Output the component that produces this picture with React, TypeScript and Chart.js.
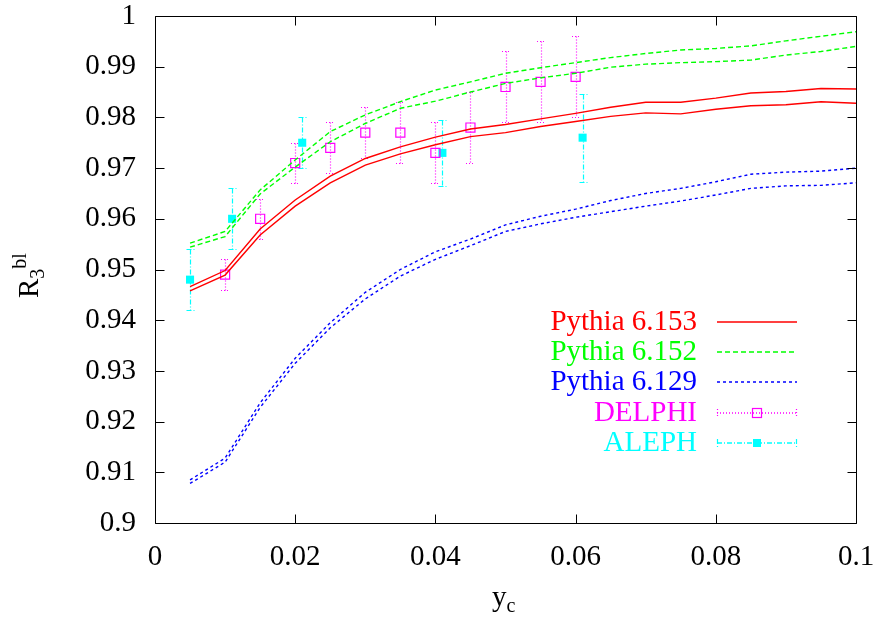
import React, { useEffect, useRef } from "react";
import { Chart, registerables } from "chart.js";

Chart.register(...registerables);

// ---------- data ----------
const ycValues = [
  0.005, 0.01, 0.015, 0.02, 0.025, 0.03, 0.035, 0.04, 0.045, 0.05,
  0.055, 0.06, 0.065, 0.07, 0.075, 0.08, 0.085, 0.09, 0.095, 0.1,
];

const pythia153Upper = [
  0.9466, 0.9498, 0.958, 0.9637, 0.9684, 0.9719, 0.9742, 0.9761, 0.9777, 0.9786,
  0.9797, 0.9808, 0.982, 0.983, 0.983, 0.9838, 0.9848, 0.9851, 0.9857, 0.9856,
];
const pythia153Lower = [
  0.9458, 0.9489, 0.9568, 0.9625, 0.9671, 0.9706, 0.9728, 0.9746, 0.9762, 0.977,
  0.9782, 0.9792, 0.9802, 0.9809, 0.9807, 0.9816, 0.9823, 0.9825, 0.9831, 0.9828,
];

const pythia152Upper = [
  0.9552, 0.9575, 0.9657, 0.9716, 0.9772, 0.9805, 0.9831, 0.9854, 0.987, 0.9887,
  0.9898, 0.9908, 0.9918, 0.9926, 0.9933, 0.9936, 0.9941, 0.9951, 0.996, 0.9969,
];
const pythia152Lower = [
  0.9544, 0.9565, 0.9649, 0.9702, 0.9752, 0.9788, 0.9818, 0.9832, 0.985, 0.9867,
  0.9878, 0.9887, 0.9899, 0.9905, 0.9908, 0.991, 0.9913, 0.9923, 0.993, 0.994,
];

const pythia129Upper = [
  0.9085, 0.9128, 0.9237, 0.9325, 0.9395, 0.9455, 0.95, 0.9535, 0.956, 0.9588,
  0.9605, 0.9619, 0.9636, 0.965, 0.966, 0.9673, 0.9688, 0.9692, 0.9694, 0.97,
];
const pythia129Lower = [
  0.9078, 0.912, 0.9228, 0.9315, 0.9385, 0.9442, 0.9487, 0.952, 0.9547, 0.9575,
  0.959, 0.9603, 0.9614, 0.9625, 0.9635, 0.9647, 0.966, 0.9665, 0.9666, 0.9671,
];

const delphiX = [0.01, 0.015, 0.02, 0.025, 0.03, 0.035, 0.04, 0.045, 0.05, 0.055, 0.06];
const delphiY = [0.949, 0.96, 0.971, 0.974, 0.977, 0.977, 0.973, 0.978, 0.986, 0.987, 0.988];
const delphiErr = [0.003, 0.004, 0.004, 0.005, 0.005, 0.006, 0.006, 0.007, 0.007, 0.008, 0.008];

const alephX = [0.005, 0.011, 0.021, 0.041, 0.061];
const alephY = [0.948, 0.96, 0.975, 0.973, 0.976];
const alephErr = [0.006, 0.006, 0.005, 0.0065, 0.0087];

const xTickValues = [0, 0.02, 0.04, 0.06, 0.08, 0.1];
const yTickValues = [0.9, 0.91, 0.92, 0.93, 0.94, 0.95, 0.96, 0.97, 0.98, 0.99, 1];

const legendLabels = ["Pythia 6.153", "Pythia 6.152", "Pythia 6.129", "DELPHI", "ALEPH"];

// ---------- styles ----------
const FONT = '"Liberation Serif", "Times New Roman", serif';
const RED = "#ff0000";
const GREEN = "#00ff00";
const BLUE = "#0000ff";
const MAGENTA = "#ff00ff";
const CYAN = "#00ffff";
const GREEN_DASH = [5, 3];
const BLUE_DASH = [3, 3];
const MAGENTA_DASH = [1, 2];
const CYAN_DASH = [5, 2, 1, 2];

const pts = (xs: number[], ys: number[]) => xs.map((x, i) => ({ x, y: ys[i] }));

const lineDs = (label: string, ys: number[], color: string, dash: number[]) => ({
  label,
  data: pts(ycValues, ys),
  showLine: true,
  borderColor: color,
  borderWidth: 1.4,
  borderDash: dash,
  pointRadius: 0,
  fill: false,
  tension: 0,
});

function drawErrorBars(
  ctx: CanvasRenderingContext2D,
  chart: any,
  xs: number[],
  ys: number[],
  errs: number[],
  color: string,
  dash: number[],
  capHalf: number
) {
  const sx = chart.scales.x;
  const sy = chart.scales.y;
  ctx.save();
  ctx.strokeStyle = color;
  ctx.lineWidth = 1.2;
  ctx.setLineDash(dash);
  xs.forEach((xv, i) => {
    const px = Math.round(sx.getPixelForValue(xv)) + 0.5;
    const top = Math.round(sy.getPixelForValue(ys[i] + errs[i])) + 0.5;
    const bot = Math.round(sy.getPixelForValue(ys[i] - errs[i])) + 0.5;
    ctx.beginPath();
    ctx.moveTo(px, top);
    ctx.lineTo(px, bot);
    ctx.moveTo(px - capHalf, top);
    ctx.lineTo(px + capHalf, top);
    ctx.moveTo(px - capHalf, bot);
    ctx.lineTo(px + capHalf, bot);
    ctx.stroke();
  });
  ctx.restore();
}

const errorBarPlugin = {
  id: "errorBars",
  beforeDatasetsDraw(chart: any) {
    const ctx = chart.ctx;
    drawErrorBars(ctx, chart, delphiX, delphiY, delphiErr, MAGENTA, MAGENTA_DASH, 4.5);
    drawErrorBars(ctx, chart, alephX, alephY, alephErr, CYAN, CYAN_DASH, 4);
  },
};

const framePlugin = {
  id: "frame",
  afterDraw(chart: any) {
    const { ctx, chartArea: a } = chart;
    const sx = chart.scales.x;
    const sy = chart.scales.y;
    ctx.save();
    ctx.strokeStyle = "#000";
    ctx.lineWidth = 1;
    ctx.setLineDash([]);
    const L = Math.round(a.left) + 0.5;
    const R = Math.round(a.right) + 0.5;
    const T = Math.round(a.top) + 0.5;
    const B = Math.round(a.bottom) + 0.5;
    ctx.beginPath();
    ctx.rect(L, T, R - L, B - T);
    const tl = 9;
    xTickValues.forEach((v) => {
      const px = Math.round(sx.getPixelForValue(v)) + 0.5;
      ctx.moveTo(px, B);
      ctx.lineTo(px, B - tl);
      ctx.moveTo(px, T);
      ctx.lineTo(px, T + tl);
    });
    yTickValues.forEach((v) => {
      const py = Math.round(sy.getPixelForValue(v)) + 0.5;
      ctx.moveTo(L, py);
      ctx.lineTo(L + tl, py);
      ctx.moveTo(R, py);
      ctx.lineTo(R - tl, py);
    });
    ctx.stroke();

    // axis titles
    ctx.fillStyle = "#000";
    ctx.textBaseline = "alphabetic";
    // x title: y_c
    ctx.textAlign = "left";
    ctx.font = `29px ${FONT}`;
    const xtX = 492;
    const xtY = 606;
    ctx.fillText("y", xtX, xtY);
    const yw = ctx.measureText("y").width;
    ctx.font = `20px ${FONT}`;
    ctx.fillText("c", xtX + yw, xtY + 6);

    // y title: R_3^bl rotated
    ctx.save();
    ctx.translate(38, 298);
    ctx.rotate(-Math.PI / 2);
    ctx.font = `29px ${FONT}`;
    ctx.fillText("R", 0, 0);
    const rw = ctx.measureText("R").width;
    ctx.font = `20px ${FONT}`;
    ctx.fillText("3", rw, 6);
    const tw = ctx.measureText("3").width;
    ctx.fillText("bl", rw + tw, -12);
    ctx.restore();

    // legend
    const colors = [RED, GREEN, BLUE, MAGENTA, CYAN];
    const dashes = [[], GREEN_DASH, BLUE_DASH, MAGENTA_DASH, CYAN_DASH];
    const rowY = [322, 352, 382, 413, 443];
    const textRight = 697;
    const x0 = 717;
    const x1 = 797;
    ctx.font = `29px ${FONT}`;
    ctx.textAlign = "right";
    ctx.textBaseline = "middle";
    legendLabels.forEach((lab, i) => {
      ctx.fillStyle = colors[i];
      ctx.fillText(lab, textRight, rowY[i] + 0.5);
      ctx.strokeStyle = colors[i];
      ctx.lineWidth = 1.5;
      ctx.setLineDash(dashes[i]);
      ctx.beginPath();
      ctx.moveTo(x0, rowY[i]);
      ctx.lineTo(x1, rowY[i]);
      ctx.stroke();
      if (i >= 3) {
        ctx.lineWidth = 1.2;
        ctx.beginPath();
        ctx.moveTo(x0 + 0.5, rowY[i] - 4);
        ctx.lineTo(x0 + 0.5, rowY[i] + 4);
        ctx.moveTo(x1 - 0.5, rowY[i] - 4);
        ctx.lineTo(x1 - 0.5, rowY[i] + 4);
        ctx.stroke();
        ctx.setLineDash([]);
        const cx = Math.round((x0 + x1) / 2);
        if (i === 3) {
          ctx.strokeRect(cx - 4.5, rowY[i] - 4.5, 9, 9);
        } else {
          ctx.fillStyle = colors[i];
          ctx.fillRect(cx - 4, rowY[i] - 4, 8, 8);
        }
      }
    });
    ctx.restore();
  },
};

export default function App() {
  const ref = useRef<HTMLCanvasElement | null>(null);

  useEffect(() => {
    document.body.style.margin = "0";
    const canvas = ref.current;
    if (!canvas) return;
    const chart = new Chart(canvas, {
      type: "scatter",
      data: {
        datasets: [
          lineDs("Pythia 6.153", pythia153Upper, RED, []),
          lineDs("Pythia 6.153 b", pythia153Lower, RED, []),
          lineDs("Pythia 6.152", pythia152Upper, GREEN, GREEN_DASH),
          lineDs("Pythia 6.152 b", pythia152Lower, GREEN, GREEN_DASH),
          lineDs("Pythia 6.129", pythia129Upper, BLUE, BLUE_DASH),
          lineDs("Pythia 6.129 b", pythia129Lower, BLUE, BLUE_DASH),
          {
            label: "DELPHI",
            data: pts(delphiX, delphiY),
            showLine: false,
            pointStyle: "rect",
            pointRadius: 6.4,
            pointBorderWidth: 1.2,
            pointBorderColor: MAGENTA,
            pointBackgroundColor: "rgba(0,0,0,0)",
          },
          {
            label: "ALEPH",
            data: pts(alephX, alephY),
            showLine: false,
            pointStyle: "rect",
            pointRadius: 5.7,
            pointBorderWidth: 0,
            pointBorderColor: CYAN,
            pointBackgroundColor: CYAN,
          },
        ],
      } as any,
      options: {
        animation: false,
        responsive: false,
        maintainAspectRatio: false,
        events: [],
        layout: { padding: { left: 0, right: 17, top: 16, bottom: 0 } },
        plugins: {
          legend: { display: false },
          tooltip: { enabled: false },
        },
        scales: {
          x: {
            type: "linear",
            min: 0,
            max: 0.1,
            grid: { display: false, drawTicks: false },
            border: { display: false },
            afterFit: (s: any) => {
              s.height = 101;
              s.paddingLeft = 0;
              s.paddingRight = 0;
              s.paddingTop = 0;
              s.paddingBottom = 0;
            },
            afterBuildTicks: (s: any) => {
              s.ticks = xTickValues.map((v) => ({ value: v }));
            },
            ticks: {
              padding: 17,
              color: "#000",
              font: { family: FONT, size: 29 },
              callback: (v: any) => String(Number(Number(v).toFixed(3))),
              maxRotation: 0,
              autoSkip: false,
            },
          },
          y: {
            type: "linear",
            min: 0.9,
            max: 1,
            grid: { display: false, drawTicks: false },
            border: { display: false },
            afterFit: (s: any) => {
              s.width = 155;
              s.paddingLeft = 0;
              s.paddingRight = 0;
              s.paddingTop = 0;
              s.paddingBottom = 0;
            },
            afterBuildTicks: (s: any) => {
              s.ticks = yTickValues.map((v) => ({ value: v }));
            },
            ticks: {
              padding: 19,
              color: "#000",
              font: { family: FONT, size: 29 },
              callback: (v: any) => String(Number(Number(v).toFixed(3))),
              autoSkip: false,
            },
          },
        },
      } as any,
      plugins: [errorBarPlugin, framePlugin],
    });
    return () => chart.destroy();
  }, []);

  return (
    <div style={{ width: 873, height: 624 }}>
      <canvas ref={ref} width={873} height={624} style={{ display: "block" }} />
    </div>
  );
}
